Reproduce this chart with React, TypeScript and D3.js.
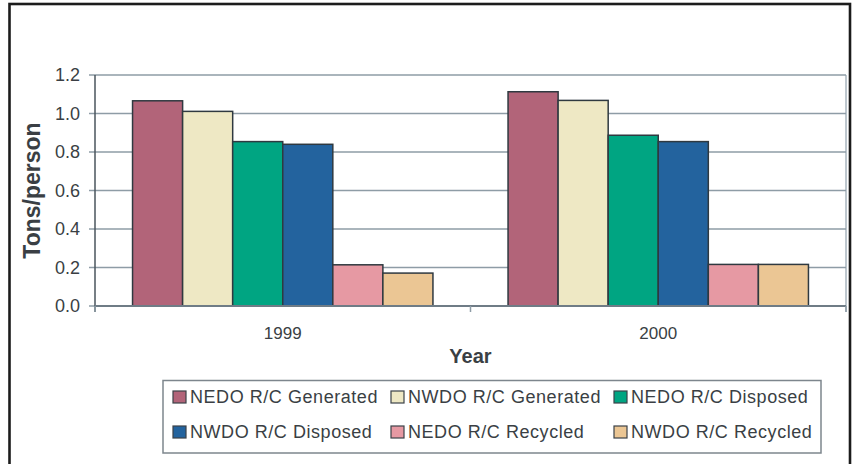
import React from "react";
import * as d3 from "d3";

const years = ["1999", "2000"];
const seriesNames = [
  "NEDO R/C Generated",
  "NWDO R/C Generated",
  "NEDO R/C Disposed",
  "NWDO R/C Disposed",
  "NEDO R/C Recycled",
  "NWDO R/C Recycled",
];
const values1999 = [1.066, 1.011, 0.854, 0.84, 0.214, 0.171];
const values2000 = [1.113, 1.068, 0.887, 0.854, 0.216, 0.216];
const seriesColors = ["#B26479", "#EEE8C4", "#00A582", "#23639E", "#E699A3", "#EBC694"];
const yTicks = [0, 0.2, 0.4, 0.6, 0.8, 1.0, 1.2];

const W = 853;
const H = 464;
const plot = { left: 95, right: 846, top: 75, bottom: 306 };
const FONT = "'Liberation Sans', Arial, sans-serif";
const TXT = "#3a3f44";

export default function App() {
  const valuesByYear = [values1999, values2000];
  const x0 = d3.scaleBand<string>().domain(years).range([plot.left, plot.right]).paddingInner(0).paddingOuter(0);
  const bw = x0.bandwidth();
  const gap = (bw / 7.5) * 0.75;
  const x1 = d3
    .scaleBand<string>()
    .domain(seriesNames)
    .range([gap, bw - gap])
    .padding(0);
  const y = d3.scaleLinear().domain([0, 1.2]).range([plot.bottom, plot.top]);

  const legendCols = [173, 391, 614];
  const legendRows = [397, 432];

  return (
    <svg
      width={W}
      height={H}
      style={{ position: "absolute", left: 0, top: 0, background: "#fff" }}
      fontFamily={FONT}
    >
      <rect x={0} y={0} width={W} height={H} fill="#fff" />
      {/* outer frame */}
      <rect x={9.5} y={4} width={840.5} height={480} fill="none" stroke="#1c1c1c" strokeWidth={2.6} />

      {/* plot area right border */}
      <line x1={plot.right} x2={plot.right} y1={plot.top} y2={plot.bottom + 6} stroke="#a9b5be" strokeWidth={1.5} />

      {/* gridlines */}
      {yTicks.map((t) => (
        <line
          key={"g" + t}
          x1={plot.left - 6}
          x2={plot.right}
          y1={y(t)}
          y2={y(t)}
          stroke="#8e9ca6"
          strokeWidth={1.4}
        />
      ))}
      {/* y tick labels */}
      {yTicks.map((t) => (
        <text
          key={"t" + t}
          x={80}
          y={y(t)}
          dy="0.36em"
          textAnchor="end"
          fontSize={18}
          fill={TXT}
        >
          {d3.format(".1f")(t)}
        </text>
      ))}

      {/* bars */}
      {years.map((yr, yi) => (
        <g key={yr} transform={`translate(${x0(yr)},0)`}>
          {seriesNames.map((s, si) => {
            const v = valuesByYear[yi][si];
            return (
              <rect
                key={s}
                x={x1(s)}
                y={y(v)}
                width={x1.bandwidth()}
                height={y(0) - y(v)}
                fill={seriesColors[si]}
                stroke="#2f3940"
                strokeWidth={1.5}
              />
            );
          })}
        </g>
      ))}

      {/* axes */}
      <line x1={plot.left} x2={plot.left} y1={plot.top} y2={plot.bottom + 6} stroke="#4a545c" strokeWidth={1.5} />
      <line x1={plot.left} x2={plot.right} y1={y(0)} y2={y(0)} stroke="#6f7c86" strokeWidth={2} />
      {[plot.left, (x0("2000") as number), plot.right].map((xx, i) => (
        <line key={"ct" + i} x1={xx} x2={xx} y1={y(0)} y2={y(0) + 6} stroke="#8e9ca6" strokeWidth={1.5} />
      ))}
      {years.map((yr) => (
        <text
          key={"xl" + yr}
          x={(x0(yr) as number) + bw / 2}
          y={339}
          textAnchor="middle"
          fontSize={17}
          fill={TXT}
        >
          {yr}
        </text>
      ))}

      {/* axis titles */}
      <text x={(plot.left + plot.right) / 2} y={363} textAnchor="middle" fontSize={20} fontWeight="bold" fill={TXT}>
        Year
      </text>
      <text
        transform={`translate(40,${(plot.top + plot.bottom) / 2}) rotate(-90)`}
        textAnchor="middle"
        fontSize={23}
        fontWeight="bold"
        fill={TXT}
      >
        Tons/person
      </text>

      {/* legend */}
      <rect x={163} y={380.5} width={658} height={72.5} fill="#fff" stroke="#7d868d" strokeWidth={1.5} />
      {seriesNames.map((s, i) => {
        const col = i % 3;
        const row = Math.floor(i / 3);
        const sx = legendCols[col];
        const cy = legendRows[row];
        return (
          <g key={"lg" + s}>
            <rect x={sx} y={cy - 6} width={13} height={12} fill={seriesColors[i]} stroke="#3b4248" strokeWidth={1.2} />
            <text x={sx + 17} y={cy} dy="0.36em" fontSize={18} letterSpacing={0.55} fill={TXT}>
              {s}
            </text>
          </g>
        );
      })}
    </svg>
  );
}
